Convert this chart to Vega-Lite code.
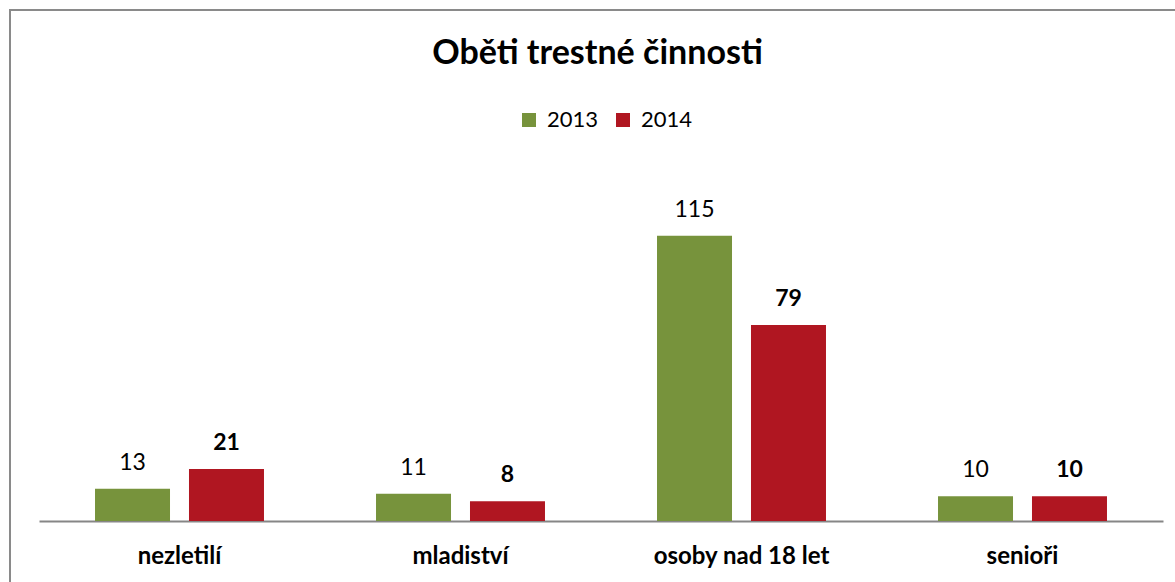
{
  "$schema": "https://vega.github.io/schema/vega-lite/v6.json",
  "autosize": {"type": "none"},
  "padding": {"left": 10, "top": 10, "right": 0, "bottom": 0},
  "width": 1175,
  "height": 600,
  "background": "white",
  "config": {
    "view": {"stroke": "#8a8a8a", "strokeWidth": 2},
    "font": "Lato"
  },
  "title": {
    "text": "Oběti trestné činnosti",
    "font": "Lato",
    "fontSize": 34,
    "fontWeight": "bold",
    "color": "#000000",
    "anchor": "middle",
    "frame": "group",
    "baseline": "alphabetic",
    "offset": 0,
    "dy": 88
  },
  "data": {
    "values": [
      {"kategorie": "nezletilí", "rok": "2013", "pocet": 13},
      {"kategorie": "nezletilí", "rok": "2014", "pocet": 21},
      {"kategorie": "mladiství", "rok": "2013", "pocet": 11},
      {"kategorie": "mladiství", "rok": "2014", "pocet": 8},
      {"kategorie": "osoby nad 18 let", "rok": "2013", "pocet": 115},
      {"kategorie": "osoby nad 18 let", "rok": "2014", "pocet": 79},
      {"kategorie": "senioři", "rok": "2013", "pocet": 10},
      {"kategorie": "senioři", "rok": "2014", "pocet": 10}
    ]
  },
  "encoding": {
    "x": {
      "field": "kategorie",
      "type": "nominal",
      "sort": null,
      "scale": {"range": [29, 1153], "paddingInner": 0, "paddingOuter": 0},
      "axis": {
        "title": null,
        "orient": "bottom",
        "offset": -89,
        "ticks": false,
        "tickSize": 0,
        "labelAngle": 0,
        "labelFont": "Lato",
        "labelFontSize": 24,
        "labelFontWeight": "bold",
        "labelColor": "#000000",
        "labelBaseline": "alphabetic",
        "labelPadding": 42,
        "domainColor": "#868686",
        "domainWidth": 2,
        "grid": false
      }
    },
    "xOffset": {
      "field": "rok",
      "type": "nominal",
      "scale": {"paddingInner": 0.202, "paddingOuter": 0.596}
    },
    "y": {
      "field": "pocet",
      "type": "quantitative",
      "scale": {"domain": [0, 150], "range": [511, 139]},
      "axis": null
    }
  },
  "layer": [
    {
      "mark": {"type": "bar"},
      "encoding": {
        "color": {
          "field": "rok",
          "type": "nominal",
          "scale": {"domain": ["2013", "2014"], "range": ["#77933C", "#B01621"]},
          "legend": {
            "title": null,
            "orient": "none",
            "legendX": 508,
            "legendY": 99,
            "direction": "horizontal",
            "symbolType": "square",
            "symbolSize": 196,
            "symbolStrokeWidth": 0,
            "labelFont": "Lato",
            "labelFontSize": 22,
            "labelColor": "#000000",
            "labelOffset": 7,
            "columnPadding": 13,
            "padding": 0
          }
        }
      }
    },
    {
      "transform": [{"filter": "datum.rok == '2013'"}],
      "mark": {"type": "text", "baseline": "alphabetic", "dy": -19, "fontSize": 23, "font": "Lato", "color": "#000000"},
      "encoding": {"text": {"field": "pocet", "type": "quantitative"}}
    },
    {
      "transform": [{"filter": "datum.rok == '2014'"}],
      "mark": {"type": "text", "baseline": "alphabetic", "dy": -19, "fontSize": 23, "font": "Lato", "fontWeight": "bold", "color": "#000000"},
      "encoding": {"text": {"field": "pocet", "type": "quantitative"}}
    }
  ]
}
